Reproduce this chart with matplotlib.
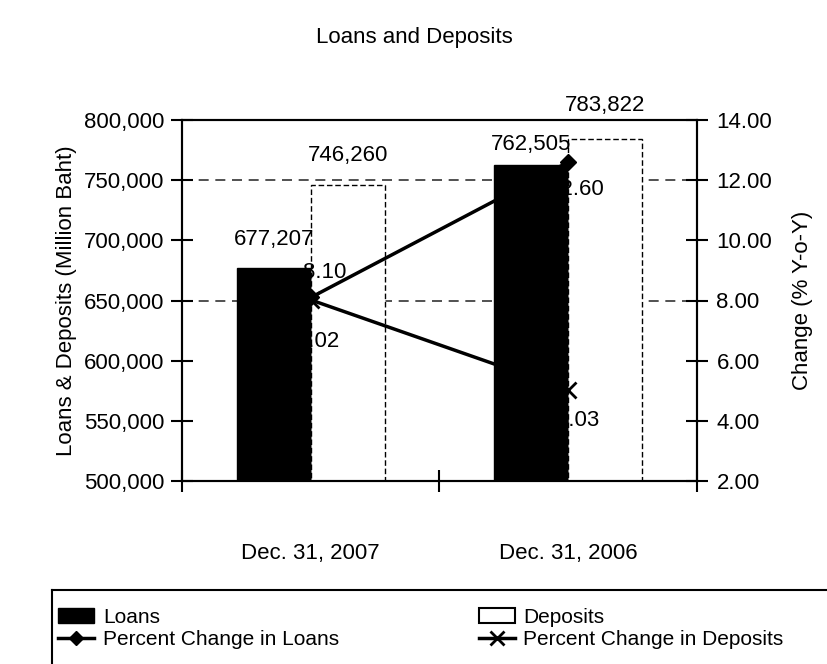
import numpy as np
import matplotlib.pyplot as plt
from matplotlib.patches import Patch
from matplotlib.lines import Line2D
from matplotlib.ticker import FuncFormatter, FixedLocator

plt.rcParams['font.family'] = ['Liberation Sans', 'DejaVu Sans']

# Data
categories = ['Dec. 31, 2007', 'Dec. 31, 2006']
loans = [677207, 762505]
deposits = [746260, 783822]
pct_loans = [8.10, 12.60]
pct_deposits = [8.02, 5.03]

fs = 16
fig = plt.figure(figsize=(8.28, 6.64), dpi=100)
W, H = 828, 664
ax = fig.add_axes([182 / W, 1 - 481 / H, (697 - 182) / W, (481 - 120) / H])
ax2 = ax.twinx()

x = np.arange(len(categories))
bw = 0.287

# dashed grid lines (only two are visible in the original)
for g in [650000, 750000]:
    ax.axhline(g, color='#333333', lw=1.2, ls=(0, (6, 4)), zorder=0)

ax.bar(x - bw / 2, loans, bw, color='black', edgecolor='black', zorder=2)
ax.bar(x + bw / 2, deposits, bw, color='white', edgecolor='black', lw=1.0,
       ls=(0, (4, 2)), zorder=2)

ax.set_xlim(-0.5, 1.5)
ax.set_ylim(500000, 800000)
ax.set_yticks(np.arange(500000, 800001, 50000))
ax.yaxis.set_major_formatter(FuncFormatter(lambda v, p: f'{int(v):,}'))
ax.set_ylabel('Loans & Deposits (Million Baht)', fontsize=fs, labelpad=5)

# x ticks: boundary ticks, labels at category centres
ax.xaxis.set_major_locator(FixedLocator([-0.5, 0.5, 1.5]))
ax.xaxis.set_minor_locator(FixedLocator(x))
ax.set_xticklabels([], minor=False)
ax.set_xticklabels(categories, minor=True)
ax.tick_params(axis='x', which='major', direction='inout', length=16, width=1.5)
ax.tick_params(axis='x', which='minor', length=0, pad=45, labelsize=fs)
ax.tick_params(axis='y', direction='inout', length=16, width=1.5, labelsize=fs, pad=5)

# bar value labels
bar_off = [20, 14.5, 21, 24.5]
vals = loans + deposits
xs = list(x - bw / 2) + list(x + bw / 2)
for xi, v, o in zip(xs, vals, bar_off):
    ax.annotate(f'{v:,}', (xi, v), xytext=(0, o), textcoords='offset points',
                ha='center', va='center', fontsize=fs, zorder=5)

# percent change lines
ax2.plot(x, pct_loans, color='black', lw=2.5, marker='D', ms=8, zorder=4)
ax2.plot(x, pct_deposits, color='black', lw=2.5, marker='x', ms=11, mew=2, zorder=4)
ax2.set_ylim(2, 14)
ax2.set_yticks(np.arange(2, 14.01, 2))
ax2.yaxis.set_major_formatter(FuncFormatter(lambda v, p: f'{v:.2f}'))
ax2.tick_params(axis='y', direction='inout', length=16, width=1.5, labelsize=fs, pad=6)
ax2.set_ylabel('Change (% Y-o-Y)', fontsize=fs, labelpad=14)

line_off = [(10, 18), (6, -20)]
for xi, v, o in zip(x, pct_loans, line_off):
    ax2.annotate(f'{v:.2f}', (xi, v), xytext=o, textcoords='offset points',
                 ha='center', va='center', fontsize=fs, zorder=1)
line_off2 = [(5, -30), (6.5, -22)]
for xi, v, o in zip(x, pct_deposits, line_off2):
    ax2.annotate(f'{v:.2f}', (xi, v), xytext=o, textcoords='offset points',
                 ha='center', va='center', fontsize=fs, zorder=1)

for a in (ax, ax2):
    for s in a.spines.values():
        s.set_linewidth(1.5)

fig.text(0.5, 1 - 38 / H, 'Loans and Deposits', ha='center', va='center', fontsize=fs)

# legend
handles = [
    Patch(facecolor='black', edgecolor='black', label='Loans'),
    Line2D([], [], color='black', lw=2.5, marker='D', ms=7, label='Percent Change in Loans'),
    Patch(facecolor='white', edgecolor='black', lw=1.5, label='Deposits'),
    Line2D([], [], color='black', lw=2.5, marker='x', ms=10, mew=2, label='Percent Change in Deposits'),
]
fig.legend(handles=handles, ncol=2, loc='upper left', bbox_to_anchor=(58 / W, 1 - 608 / H),
           frameon=False, fontsize=fs - 1, handlelength=1.75, handletextpad=0.4,
           columnspacing=6.7, labelspacing=0.15, borderpad=0, borderaxespad=0)
fig.add_artist(Line2D([52 / W, 1.0], [1 - 590 / H] * 2, color='black', lw=1.5))
fig.add_artist(Line2D([52 / W] * 2, [1 - 590 / H, 0.0], color='black', lw=1.5))

plt.savefig('out.png', dpi=100)
